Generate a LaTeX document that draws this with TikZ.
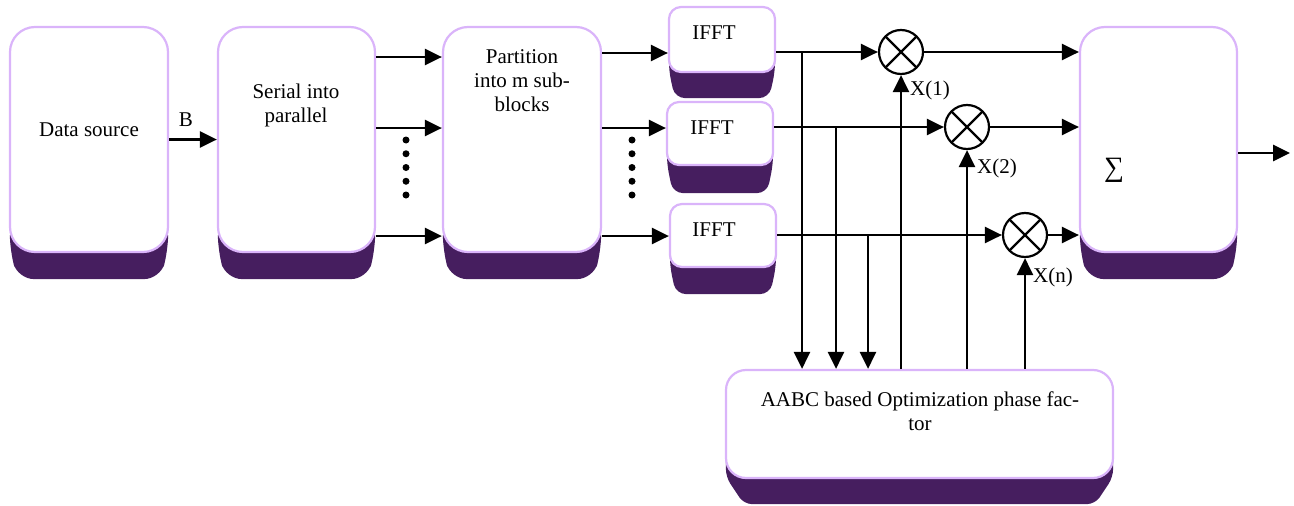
\documentclass[tikz,border=0pt]{standalone}
\usepackage{fontspec}
\setmainfont{Liberation Serif}
\usetikzlibrary{arrows.meta,calc,backgrounds}
\definecolor{boxborder}{RGB}{218,180,250}
\definecolor{shadowc}{RGB}{70,30,95}
\newcommand{\boxshadow}[4]{\fill[shadowc, rounded corners=#4]
  ($(#1.south west)+(1,-30)$) -- ($(#1.south west)+(1,-2)$) -- ($(#1.south west)+(1+#2,#3)$) --
  ($(#1.south east)+(-1-#2,#3)$) -- ($(#1.south east)+(-1,-2)$) -- ($(#1.south east)+(-1,-30)$) -- cycle;}
\tikzset{
  roundbox/.style={draw=boxborder, line width=2.2pt, fill=white, rounded corners=#1, inner sep=0pt},
  txt/.style={font=\fontsize{21}{24}\selectfont, inner sep=0pt, align=center},
  arr/.style={line width=2.8pt, -{Triangle[length=17pt,width=16pt]}},
  mult/.style={circle, draw, line width=2.2pt, minimum size=44pt, inner sep=0pt, fill=white,
    path picture={\draw[line width=2.2pt] (path picture bounding box.north west) -- (path picture bounding box.south east)
      (path picture bounding box.north east) -- (path picture bounding box.south west);}},
}
\begin{document}
\begin{tikzpicture}[x=1pt,y=-1pt]
\useasboundingbox (0,0) rectangle (1294,506);
% boxes
\node[roundbox=25pt, minimum width=158pt, minimum height=225pt] (ds) at (89,139.5) {};
\node[roundbox=25pt, minimum width=157pt, minimum height=225pt] (sp) at (296.5,139.5) {};
\node[roundbox=25pt, minimum width=158pt, minimum height=225pt] (pt) at (522,139.5) {};
\node[roundbox=12pt, minimum width=106pt, minimum height=65pt] (ifft1) at (722,39.5) {};
\node[roundbox=12pt, minimum width=106pt, minimum height=63pt] (ifft2) at (720,133.5) {};
\node[roundbox=12pt, minimum width=106pt, minimum height=63pt] (ifft3) at (723,235.5) {};
\node[roundbox=25pt, minimum width=157pt, minimum height=225pt] (sum) at (1158.5,139.5) {};
\node[roundbox=20pt, minimum width=387pt, minimum height=108pt] (aabc) at (919.5,424) {};
% shadows
\begin{scope}[on background layer]
  \boxshadow{ds}{8}{26}{16pt}
  \boxshadow{sp}{8}{26}{16pt}
  \boxshadow{pt}{8}{26}{16pt}
  \boxshadow{sum}{8}{26}{16pt}
  \boxshadow{ifft1}{6}{25}{10pt}
  \boxshadow{ifft2}{6}{27}{10pt}
  \boxshadow{ifft3}{6}{26}{10pt}
  \boxshadow{aabc}{18}{25}{8pt}
\end{scope}
% texts
\node[txt] (tds) at (89,130) {Data source};
\node[txt] (tsp) at (296,105) {Serial into\\parallel};
\node[txt] (tpt) at (522,81) {Partition\\into m sub-\\blocks};
\node[txt] (ti1) at (714,33) {IFFT};
\node[txt] (ti2) at (712,128) {IFFT};
\node[txt] (ti3) at (714,230) {IFFT};
\node[txt, font=\fontsize{28}{30}\selectfont] (tsum) at (1114,170) {∑};
\node[txt] (taabc) at (920,411) {AABC based Optimization phase fac-\\tor};
% multipliers
\node[mult] (m1) at (901,52) {};
\node[mult] (m2) at (967,127) {};
\node[mult] (m3) at (1025,235) {};
% labels
\node[txt] (lB) at (186,120) {B};
\node[txt] (lx1) at (930,90) {X(1)};
\node[txt] (lx2) at (997,168) {X(2)};
\node[txt] (lxn) at (1053,277) {X(n)};
% row coordinates
\coordinate (r1) at (0,57);
\coordinate (r2) at (0,128);
\coordinate (r3) at (0,236);
\coordinate (q1) at (0,53);
\coordinate (q2) at (0,128);
\coordinate (q3) at (0,236);
% connectors
\draw[arr] (ds) -- (sp);
\draw[arr] (sp.east |- r1) -- (pt.west |- r1);
\draw[arr] (sp.east |- r2) -- (pt.west |- r2);
\draw[arr] (sp.east |- r3) -- (pt.west |- r3);
\draw[arr] (pt.east |- q1) -- (ifft1.west |- q1);
\draw[arr] (pt.east |- q2) -- (ifft2.west |- q2);
\draw[arr] (pt.east |- q3) -- (ifft3.west |- q3);
\draw[arr] (ifft1.east |- m1) -- (m1);
\draw[arr] (ifft2.east |- m2) -- (m2);
\draw[arr] (ifft3.east |- m3) -- (m3);
\draw[arr] (m1) -- (m1 -| sum.west);
\draw[arr] (m2) -- (m2 -| sum.west);
\draw[arr] (m3) -- (m3 -| sum.west);
\coordinate (out) at (1290,153);
\draw[arr] (sum.east |- out) -- (out);
\coordinate (d1) at (802,52);
\coordinate (d2) at (836,127);
\coordinate (d3) at (868,235);
\draw[arr] (d1) -- (d1 |- aabc.north);
\draw[arr] (d2) -- (d2 |- aabc.north);
\draw[arr] (d3) -- (d3 |- aabc.north);
\draw[arr] (aabc.north -| m1) -- (m1);
\draw[arr] (aabc.north -| m2) -- (m2);
\draw[arr] (aabc.north -| m3) -- (m3);
% dots
\foreach \yy in {140,153.75,167.5,181.25,195} {
  \fill (406,\yy) circle (3.5pt);
  \fill (632,\yy) circle (3.5pt);
}
\end{tikzpicture}
\end{document}
